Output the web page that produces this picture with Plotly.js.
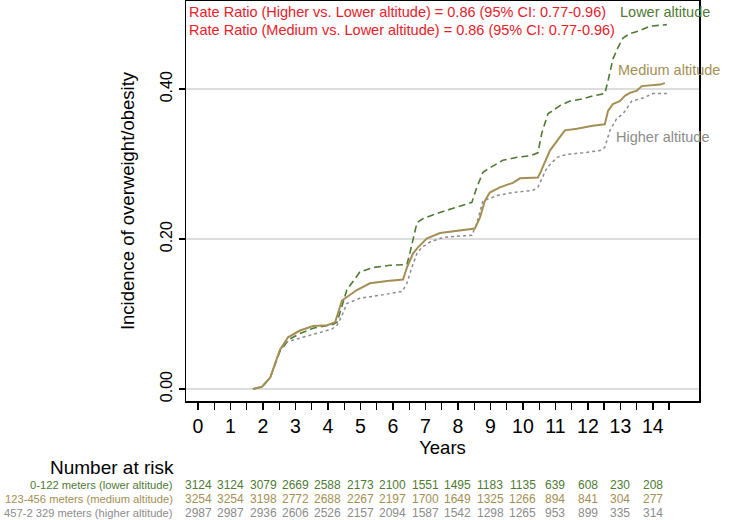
<!DOCTYPE html>
<html>
<head>
<meta charset="utf-8">
<script src="https://cdn.plot.ly/plotly-3.0.1.min.js"></script>
<style>html,body{margin:0;padding:0;background:#fff;}#chart{width:731px;height:520px;}</style>
</head>
<body>
<div id="chart"></div>
<script>
// Cumulative incidence curves (years, incidence)
const lowerX = [1.69,1.97,2.22,2.52,2.80,3.14,3.54,3.97,4.15,4.28,4.58,4.98,5.38,5.91,6.43,6.52,6.62,6.74,6.92,7.35,7.85,8.28,8.43,8.58,8.77,8.98,9.38,9.82,10.22,10.46,10.58,10.77,11.14,11.45,11.85,12.15,12.52,12.62,12.77,12.92,13.08,13.29,13.60,13.91,14.43];
const lowerY = [0,0.003,0.015,0.050,0.066,0.074,0.081,0.084,0.086,0.089,0.132,0.156,0.162,0.165,0.166,0.181,0.200,0.222,0.227,0.234,0.241,0.247,0.249,0.269,0.289,0.295,0.305,0.309,0.311,0.315,0.341,0.367,0.378,0.384,0.387,0.391,0.394,0.411,0.440,0.455,0.468,0.474,0.478,0.484,0.486];
const mediumX = [1.69,1.97,2.22,2.52,2.77,3.14,3.54,3.97,4.22,4.43,4.89,5.29,5.82,6.31,6.43,6.62,6.77,7.05,7.45,7.85,8.28,8.52,8.68,8.83,8.98,9.29,9.69,9.91,10.46,10.52,10.83,11.05,11.29,11.66,12.15,12.52,12.62,12.77,12.98,13.14,13.29,13.51,13.66,14.22,14.37];
const mediumY = [0,0.003,0.015,0.052,0.069,0.078,0.084,0.085,0.089,0.118,0.132,0.141,0.144,0.146,0.162,0.181,0.189,0.201,0.208,0.210,0.213,0.214,0.229,0.251,0.262,0.269,0.275,0.281,0.282,0.287,0.318,0.331,0.345,0.347,0.351,0.353,0.371,0.380,0.384,0.391,0.395,0.398,0.404,0.406,0.408];
const higherX = [1.69,1.97,2.22,2.52,2.74,3.14,3.66,4.12,4.28,4.43,4.58,4.98,5.60,6.28,6.43,6.58,6.74,6.89,7.14,7.54,8.06,8.43,8.58,8.77,8.98,9.20,9.69,10.31,10.46,10.74,11.05,11.35,11.85,12.37,12.52,12.68,12.89,13.08,13.35,13.69,14.00,14.52];
const higherY = [0,0.003,0.015,0.052,0.063,0.068,0.074,0.080,0.085,0.098,0.114,0.121,0.125,0.130,0.141,0.162,0.181,0.189,0.196,0.202,0.204,0.205,0.221,0.251,0.254,0.258,0.262,0.265,0.269,0.295,0.309,0.313,0.315,0.318,0.322,0.345,0.361,0.367,0.384,0.388,0.394,0.394];

// Number at risk table
const riskYears = [0,1,2,3,4,5,6,7,8,9,10,11,12,13,14];
const riskLower = [3124,3124,3079,2669,2588,2173,2100,1551,1495,1183,1135,639,608,230,208];
const riskMedium = [3254,3254,3198,2772,2688,2267,2197,1700,1649,1325,1266,894,841,304,277];
const riskHigher = [2987,2987,2936,2606,2526,2157,2094,1587,1542,1298,1265,953,899,335,314];
const rowLabels = ["0-122 meters (lower altitude)","123-456 meters (medium altitude)","457-2 329 meters (higher altitude)"];
const seriesNames = ["Lower altitude","Medium altitude","Higher altitude"];
const rrLines = ["Rate Ratio (Higher vs. Lower altitude) = 0.86 (95% CI: 0.77-0.96)","Rate Ratio (Medium vs. Lower altitude) = 0.86 (95% CI: 0.77-0.96)"];

const cGreen = '#4f7a35', cTan = '#a38f55', cGrey = '#8c8c8c', cRed = '#e8202a';
const FONT = 'Liberation Sans, Arial, Helvetica, sans-serif';

const traces = [
  {x: lowerX, y: lowerY, mode:'lines', name: seriesNames[0], line:{color:cGreen, width:1.6, dash:'7px,4px'}},
  {x: higherX, y: higherY, mode:'lines', name: seriesNames[2], line:{color:cGrey, width:1.5, dash:'3px,3px'}},
  {x: mediumX, y: mediumY, mode:'lines', name: seriesNames[1], line:{color:cTan, width:2}}
];

const ann = [];
ann.push({xref:'paper', yref:'paper', x:0.001, y:0.9725, xanchor:'left', yanchor:'middle', text:rrLines[0], showarrow:false, font:{family:FONT, size:14.5, color:cRed}});
ann.push({xref:'paper', yref:'paper', x:0.001, y:0.9275, xanchor:'left', yanchor:'middle', text:rrLines[1], showarrow:false, font:{family:FONT, size:14.5, color:cRed}});
ann.push({xref:'paper', yref:'paper', x:(618-186)/513, y:(401-12)/400, xanchor:'left', yanchor:'middle', text:seriesNames[0], showarrow:false, font:{family:FONT, size:14.5, color:cGreen}});
ann.push({xref:'paper', yref:'paper', x:(616-186)/513, y:(401-70)/400, xanchor:'left', yanchor:'middle', text:seriesNames[1], showarrow:false, font:{family:FONT, size:14.5, color:cTan}});
ann.push({xref:'paper', yref:'paper', x:(614-186)/513, y:(401-137)/400, xanchor:'left', yanchor:'middle', text:seriesNames[2], showarrow:false, font:{family:FONT, size:14.5, color:cGrey}});

ann.push({xref:'paper', yref:'paper', x:(176-186)/513, y:(401-467)/400, xanchor:'right', yanchor:'middle', text:'Number at risk', showarrow:false, font:{family:FONT, size:19, color:'#000'}});
const rowsY = [485, 499, 513];
const rowColors = [cGreen, cTan, cGrey];
const rowData = [riskLower, riskMedium, riskHigher];
for (let r = 0; r < 3; r++) {
  const py = (401 - rowsY[r]) / 400;
  ann.push({xref:'paper', yref:'paper', x:(175-186)/513, y:py, xanchor:'right', yanchor:'middle', text:rowLabels[r], showarrow:false, font:{family:FONT, size:11.2, color:rowColors[r]}});
  for (let i = 0; i < riskYears.length; i++) {
    ann.push({xref:'x', yref:'paper', x:riskYears[i], y:py, xanchor:'center', yanchor:'middle', text:String(rowData[r][i]), showarrow:false, font:{family:FONT, size:12, color:rowColors[r]}});
  }
}

const layout = {
  width:731, height:520,
  margin:{l:186, r:32, t:1, b:119},
  paper_bgcolor:'#fff', plot_bgcolor:'#fff',
  showlegend:false,
  font:{family:FONT, color:'#000'},
  xaxis:{
    range:[-0.37, 15.42], tickmode:'array', tickvals:riskYears, ticktext:riskYears.map(String),
    ticks:'outside', ticklen:7, tickwidth:1.3, tickcolor:'#000',
    minor:{tickmode:'linear', tick0:0.5, dtick:1, ticks:'outside', ticklen:7, tickwidth:1.3, tickcolor:'#000', showgrid:false},
    showgrid:false, zeroline:false, showline:true, mirror:true, linecolor:'#000', linewidth:1.5,
    tickfont:{family:FONT, size:19.5}, title:{text:'Years', font:{family:FONT, size:18.5}, standoff:4}
  },
  yaxis:{
    range:[-0.016, 0.5175], tickmode:'array', tickvals:[0,0.2,0.4], ticktext:['0.00','0.20','0.40'],
    tickangle:-90, ticks:'outside', ticklen:6, tickwidth:1.3, tickcolor:'#000',
    showgrid:true, gridcolor:'#dddddd', gridwidth:1.5, zeroline:false,
    showline:true, mirror:true, linecolor:'#000', linewidth:1.5,
    tickfont:{family:FONT, size:16}, title:{text:'Incidence of overweight/obesity', font:{family:FONT, size:18.5}, standoff:18}
  },
  annotations: ann
};

Plotly.newPlot('chart', traces, layout, {displayModeBar:false, staticPlot:true});
</script>
</body>
</html>
